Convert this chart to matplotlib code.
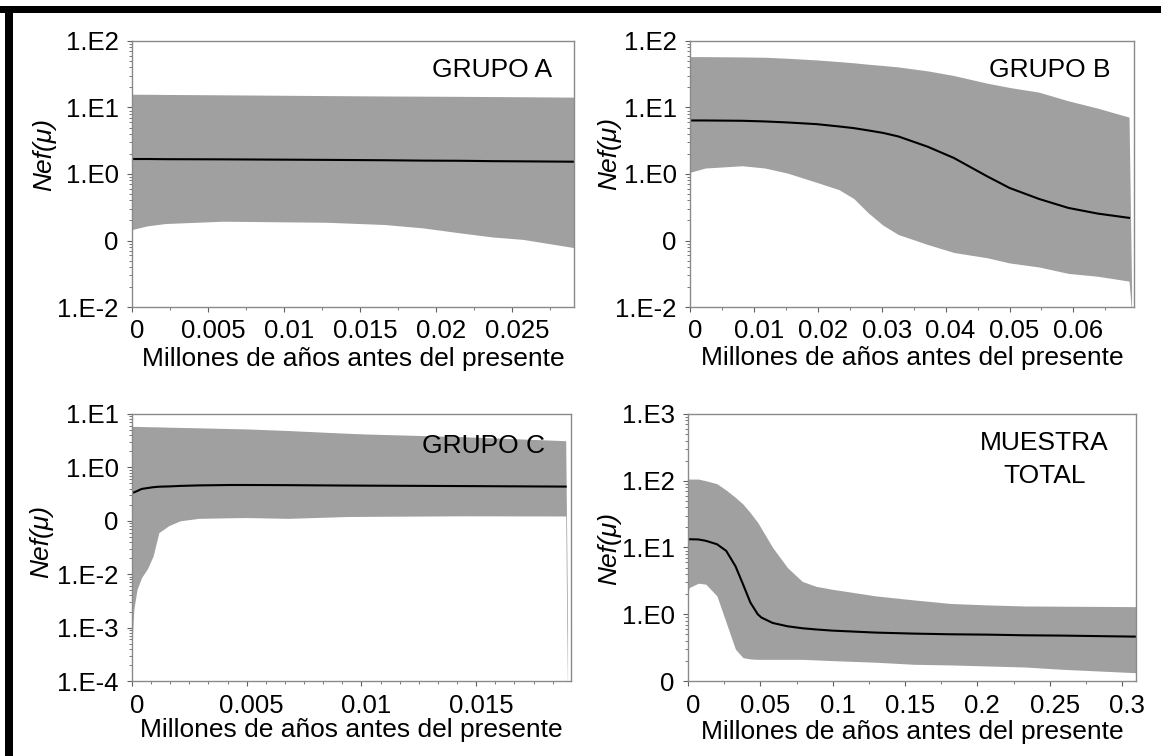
import matplotlib
matplotlib.use("Agg")
import matplotlib.pyplot as plt
import matplotlib.transforms as mtransforms
from matplotlib.patches import Rectangle
from matplotlib.ticker import MultipleLocator, LogLocator, NullFormatter

plt.rcParams["font.family"] = ["Liberation Sans", "DejaVu Sans"]

BAND_COLOR = "#a0a0a0"
SPINE_COLOR = "#8a8a8a"
XLABEL = "Millones de años antes del presente"
YLABEL = "Nef(μ)"

# Grupo A
time_a = [0, 0.001, 0.0022, 0.006, 0.0128, 0.0166, 0.0191, 0.0216, 0.0237, 0.0257, 0.0291]
upper_a = [15.8, 15.8, 15.7, 15.5, 15.1, 14.9, 14.8, 14.7, 14.6, 14.5, 14.3]
median_a = [1.68, 1.68, 1.67, 1.66, 1.63, 1.61, 1.59, 1.58, 1.56, 1.55, 1.53]
lower_a = [0.146, 0.166, 0.180, 0.195, 0.188, 0.174, 0.155, 0.130, 0.113, 0.104, 0.078]

# Grupo B
time_b = [0, 0.0024, 0.0082, 0.0117, 0.0152, 0.0198, 0.0233, 0.0256, 0.0279, 0.0302, 0.0326,
          0.0372, 0.0413, 0.0465, 0.05, 0.0546, 0.0592, 0.0638, 0.0687, 0.0691]
upper_b = [58.2, 58.2, 57.5, 56.9, 55.0, 51.9, 49.0, 47.0, 44.7, 42.8, 40.7,
           35.5, 30.2, 23.2, 20.0, 17.0, 12.6, 9.77, 7.16, 0.02]
median_b = [6.38, 6.38, 6.31, 6.17, 5.96, 5.62, 5.19, 4.90, 4.52, 4.15, 3.67,
            2.57, 1.74, 0.923, 0.617, 0.422, 0.309, 0.254, 0.219]
lower_b = [1.06, 1.23, 1.33, 1.23, 1.035, 0.75, 0.582, 0.43, 0.260, 0.17, 0.123,
           0.087, 0.066, 0.055, 0.046, 0.040, 0.032, 0.029, 0.0245, 0.008]

# Grupo C
time_c = [0, 0.00008, 0.00022, 0.00042, 0.00067, 0.00092, 0.00117, 0.0016, 0.0021,
          0.0029, 0.0043, 0.005, 0.0068, 0.0093, 0.0102, 0.0144, 0.0189, 0.01898]
upper_c = [5.87, 5.86, 5.85, 5.82, 5.78, 5.75, 5.73, 5.66, 5.60,
           5.51, 5.33, 5.25, 4.90, 4.37, 4.22, 3.76, 3.16, 0.0012]
median_c = [0.331, 0.34, 0.36, 0.395, 0.41, 0.425, 0.435, 0.44, 0.45,
            0.46, 0.468, 0.468, 0.465, 0.457, 0.455, 0.447, 0.437]
lower_c = [5.2e-4, 2.2e-3, 5.2e-3, 8.7e-3, 0.0126, 0.0219, 0.060, 0.081, 0.10,
           0.111, 0.114, 0.115, 0.111, 0.120, 0.121, 0.124, 0.123, 5e-5]

# Muestra total
time_d = [0, 0.0008, 0.0072, 0.0123, 0.02, 0.0264, 0.0328, 0.038, 0.0431, 0.0482, 0.0508,
          0.0585, 0.0687, 0.079, 0.0885, 0.0995, 0.130, 0.156, 0.1815, 0.207, 0.233, 0.258, 0.31]
upper_d = [105.9, 105.9, 105.9, 100, 90.2, 72.4, 56.2, 44.7, 33.1, 23.7, 19.1,
           10.0, 5.01, 3.10, 2.62, 2.37, 1.88, 1.64, 1.45, 1.38, 1.33, 1.32, 1.30]
median_d = [13.3, 13.3, 13.2, 12.6, 11.2, 8.91, 5.25, 2.82, 1.50, 1.0, 0.891,
            0.741, 0.661, 0.617, 0.592, 0.569, 0.531, 0.513, 0.501, 0.495, 0.484, 0.479, 0.462]
lower_d = [2.11, 2.51, 2.92, 2.82, 1.88, 0.75, 0.299, 0.224, 0.214, 0.211, 0.211,
           0.211, 0.211, 0.211, 0.207, 0.202, 0.191, 0.178, 0.174, 0.168, 0.162, 0.150, 0.133]

yticks_ab = [1e-2, 1e-1, 1e0, 1e1, 1e2]
ylabels_ab = ["1.E-2", "0", "1.E0", "1.E1", "1.E2"]
yticks_c = [1e-4, 1e-3, 1e-2, 1e-1, 1e0, 1e1]
ylabels_c = ["1.E-4", "1.E-3", "1.E-2", "0", "1.E0", "1.E1"]
yticks_d = [1e-1, 1e0, 1e1, 1e2, 1e3]
ylabels_d = ["0", "1.E0", "1.E1", "1.E2", "1.E3"]

xticks_a = [0, 0.005, 0.01, 0.015, 0.02, 0.025]
xlabels_a = ["0", "0.005", "0.01", "0.015", "0.02", "0.025"]
xticks_b = [0, 0.01, 0.02, 0.03, 0.04, 0.05, 0.06]
xlabels_b = ["0", "0.01", "0.02", "0.03", "0.04", "0.05", "0.06"]
xticks_c = [0, 0.005, 0.01, 0.015]
xlabels_c = ["0", "0.005", "0.01", "0.015"]
xticks_d = [0, 0.05, 0.1, 0.15, 0.2, 0.25, 0.3]
xlabels_d = ["0", "0.05", "0.1", "0.15", "0.2", "0.25", "0.3"]


def draw_panel(fig, rect, t, lo, med, hi, xlim, ylim, xticks, xlabels, xminor,
               yticks, ylabels, xpad, ylab_pos, tick_pad):
    ax = fig.add_axes(rect)
    ax.fill_between(t, lo, hi, color=BAND_COLOR, linewidth=0)
    ax.plot(t[:len(med)], med, color="black", linewidth=1.5)
    ax.set_yscale("log")
    ax.set_xlim(*xlim)
    ax.set_ylim(*ylim)

    ax.set_yticks(yticks)
    ax.set_yticklabels(ylabels)
    ax.yaxis.set_minor_locator(LogLocator(base=10, subs=range(2, 10), numticks=20))
    ax.yaxis.set_minor_formatter(NullFormatter())
    ax.set_xticks(xticks)
    ax.set_xticklabels(xlabels)
    ax.xaxis.set_minor_locator(MultipleLocator(xminor))

    ax.tick_params(axis="both", which="major", direction="out", length=3.5,
                   width=0.8, color="#606060", labelsize=18.5)
    ax.tick_params(axis="both", which="minor", direction="out", length=2,
                   width=0.6, color="#606060")
    ax.tick_params(axis="y", which="major", pad=6)
    ax.tick_params(axis="x", which="major", pad=tick_pad)

    shift = mtransforms.ScaledTranslation(5 / 100, 0, fig.dpi_scale_trans)
    for lbl in ax.get_xticklabels():
        lbl.set_transform(lbl.get_transform() + shift)

    for sp in ax.spines.values():
        sp.set_color(SPINE_COLOR)
        sp.set_linewidth(1.0)

    ax.set_xlabel(XLABEL, fontsize=19, labelpad=xpad)
    ax.set_ylabel(YLABEL, fontsize=19, style="italic")
    ax.yaxis.set_label_coords(*ylab_pos)
    return ax


fig = plt.figure(figsize=(11.61, 7.56), dpi=100)

ax_a = draw_panel(fig, [0.1137, 0.5939, 0.3807, 0.3519], time_a, lower_a, median_a, upper_a,
                  (0, 0.02907), (1e-2, 1e2), xticks_a, xlabels_a, 0.0025,
                  yticks_ab, ylabels_ab, 3, (-0.172, 0.575), 5)
ax_a.text(0.95, 0.865, "GRUPO A", transform=ax_a.transAxes, ha="right",
          va="baseline", fontsize=19)

ax_b = draw_panel(fig, [0.5943, 0.5939, 0.3824, 0.3519], time_b, lower_b, median_b, upper_b,
                  (0, 0.06947), (1e-2, 1e2), xticks_b, xlabels_b, 0.005,
                  yticks_ab, ylabels_ab, 2, (-0.155, 0.577), 5)
ax_b.text(0.948, 0.865, "GRUPO B", transform=ax_b.transAxes, ha="right",
          va="baseline", fontsize=19)

ax_c = draw_panel(fig, [0.1137, 0.0992, 0.3781, 0.3532], time_c, lower_c, median_c, upper_c,
                  (0, 0.01913), (1e-4, 1e1), xticks_c, xlabels_c, 0.005 / 6,
                  yticks_c, ylabels_c, 0, (-0.18, 0.524), 6)
ax_c.text(0.941, 0.854, "GRUPO C", transform=ax_c.transAxes, ha="right",
          va="baseline", fontsize=19)

ax_d = draw_panel(fig, [0.5926, 0.0992, 0.3859, 0.3532], time_d, lower_d, median_d, upper_d,
                  (0, 0.3097), (1e-1, 1e3), xticks_d, xlabels_d, 0.025,
                  yticks_d, ylabels_d, 1, (-0.15, 0.496), 6)
ax_d.text(0.795, 0.865, "MUESTRA", transform=ax_d.transAxes, ha="center",
          va="baseline", fontsize=19)
ax_d.text(0.795, 0.742, "TOTAL", transform=ax_d.transAxes, ha="center",
          va="baseline", fontsize=19)

# heavy frame along the top and left edges
fig.add_artist(Rectangle((0.0, 1 - 13 / 756), 1.0, 7 / 756, transform=fig.transFigure,
                         facecolor="black", edgecolor="none"))
fig.add_artist(Rectangle((5 / 1161, 0.0), 8 / 1161, 1 - 6 / 756, transform=fig.transFigure,
                         facecolor="black", edgecolor="none"))

fig.savefig("out.png", dpi=100)
